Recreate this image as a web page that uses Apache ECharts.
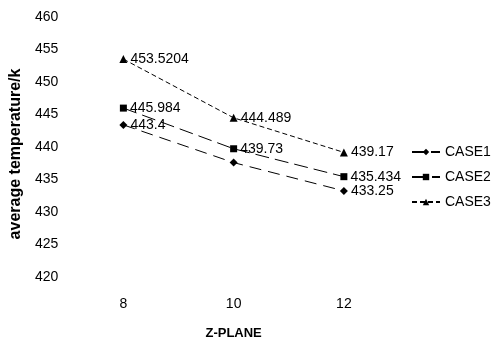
<!DOCTYPE html>
<html>
<head>
<meta charset="utf-8">
<script src="https://cdn.jsdelivr.net/npm/echarts@6/dist/echarts.min.js"></script>
<style>
  html, body { margin: 0; padding: 0; background: #fff; }
  #chart { width: 501px; height: 345px; }
</style>
</head>
<body>
<div id="chart"></div>
<script>
// Z-plane positions along the x axis
const zPlanes = ['8', '10', '12'];

// Average temperature (K) per case
const case1 = [443.4, 437.6, 433.25];
const case2 = [445.984, 439.73, 435.434];
const case3 = [453.5204, 444.489, 439.17];

// Which points carry a value label
const case1Labels = [true, false, true];
const case2Labels = [true, true, true];
const case3Labels = [true, true, true];

const FONT = '"Liberation Sans", Arial, sans-serif';

function points(values, labels) {
  return values.map((v, i) => ({ value: v, label: { show: labels[i] } }));
}

function lineSeries(name, values, labels, symbol, symbolSize, dash) {
  return {
    name: name,
    type: 'line',
    data: points(values, labels),
    symbol: symbol,
    symbolSize: symbolSize,
    itemStyle: { color: '#000' },
    lineStyle: { color: '#000', width: 1, type: dash },
    label: {
      position: 'right',
      distance: 3,
      color: '#000',
      fontFamily: FONT,
      fontSize: 14,
      formatter: p => String(p.value)
    },
    emphasis: { disabled: true },
    z: 2
  };
}

const chart = echarts.init(document.getElementById('chart'), null, { renderer: 'canvas' });
chart.setOption({
  animation: false,
  backgroundColor: '#fff',
  grid: { left: 68, right: 102, top: 17, bottom: 66 },
  legend: {
    orient: 'vertical',
    left: 406,
    top: 140,
    itemWidth: 28,
    itemHeight: 8,
    itemGap: 11,
    textStyle: { color: '#000', fontFamily: FONT, fontSize: 14 },
    data: ['CASE1', 'CASE2', 'CASE3']
  },
  xAxis: {
    type: 'category',
    data: zPlanes,
    boundaryGap: true,
    axisLine: { show: false },
    axisTick: { show: false },
    axisLabel: { color: '#000', fontFamily: FONT, fontSize: 14, margin: 20 },
    name: 'Z-PLANE',
    nameLocation: 'middle',
    nameGap: 50,
    nameTextStyle: { color: '#000', fontFamily: FONT, fontSize: 13, fontWeight: 'bold' }
  },
  yAxis: {
    type: 'value',
    min: 420,
    max: 460,
    interval: 5,
    axisLine: { show: false },
    axisTick: { show: false },
    splitLine: { show: false },
    axisLabel: { color: '#000', fontFamily: FONT, fontSize: 14, margin: 10 },
    name: 'average temperature/k',
    nameLocation: 'middle',
    nameGap: 44,
    nameTextStyle: {
      color: '#000', fontFamily: FONT, fontSize: 16, fontWeight: 'bold',
      padding: [0, 14, 0, 0]
    }
  },
  series: [
    lineSeries('CASE1', case1, case1Labels, 'diamond', 8, [12, 7]),
    lineSeries('CASE2', case2, case2Labels, 'rect', 7, [14, 6]),
    lineSeries('CASE3', case3, case3Labels, 'triangle', 8, [5, 3])
  ]
});
</script>
</body>
</html>
